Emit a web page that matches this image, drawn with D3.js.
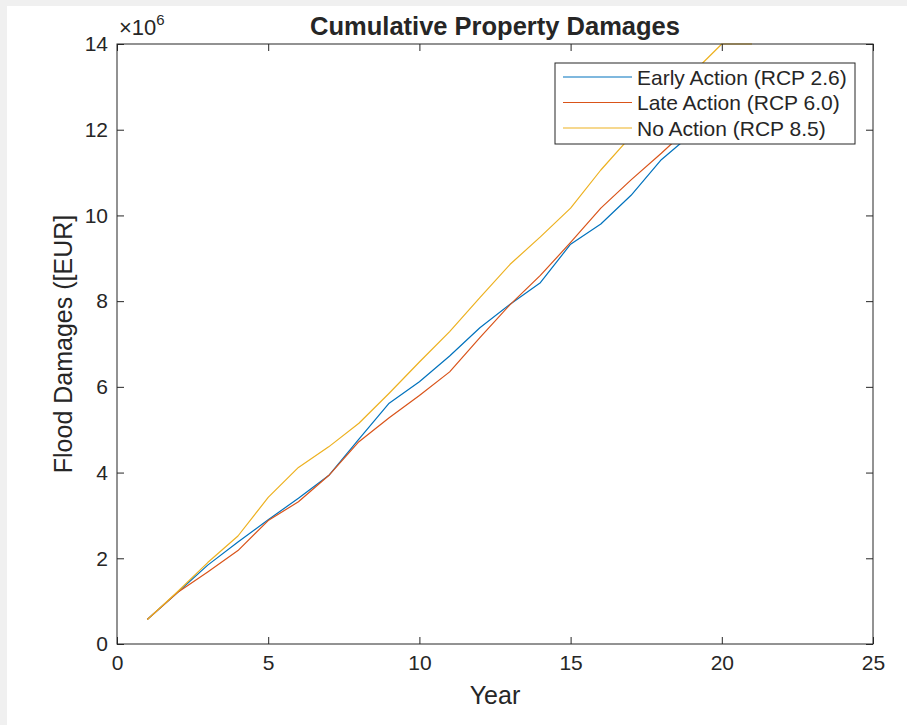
<!DOCTYPE html>
<html>
<head>
<meta charset="utf-8">
<script src="https://cdn.jsdelivr.net/npm/d3@7"></script>
<style>
  html, body { margin: 0; padding: 0; background: #f0f0f0; }
  svg { display: block; }
  text { font-family: "Liberation Sans", Arial, sans-serif; fill: #262626; }
</style>
</head>
<body>
<svg id="chart" width="907" height="725"></svg>
<script>
// Cumulative flood damages per scenario, in millions of EUR
const years = d3.range(1, 22);
const earlyAction = [0.57, 1.20, 1.84, 2.38, 2.90, 3.40, 3.93, 4.78, 5.62, 6.12, 6.72, 7.38, 7.93, 8.43, 9.33, 9.80, 10.47, 11.30, 11.90, 12.55, 13.20];
const lateAction  = [0.57, 1.20, 1.68, 2.18, 2.88, 3.32, 3.93, 4.72, 5.28, 5.80, 6.35, 7.15, 7.92, 8.60, 9.37, 10.17, 10.83, 11.45, 12.10, 12.80, 13.50];
const noAction    = [0.57, 1.22, 1.90, 2.52, 3.42, 4.12, 4.60, 5.15, 5.85, 6.58, 7.29, 8.08, 8.86, 9.50, 10.17, 11.06, 11.85, 12.60, 13.30, 14.00, 14.00];

const seriesNames = ["Early Action (RCP 2.6)", "Late Action (RCP 6.0)", "No Action (RCP 8.5)"];
const seriesColors = ["#0072BD", "#D95319", "#EDB120"];
const xTicks = [0, 5, 10, 15, 20, 25];
const yTicks = [0, 2, 4, 6, 8, 10, 12, 14];

const series = [earlyAction, lateAction, noAction].map((vals, i) => ({
  name: seriesNames[i], color: seriesColors[i],
  points: years.map((y, j) => ({ x: y, v: vals[j] }))
}));

const svg = d3.select("#chart");
// white figure area inside the light frame
svg.append("rect").attr("x", 7).attr("y", 6).attr("width", 900).attr("height", 719).attr("fill", "#ffffff");

const m = { left: 117, right: 873, top: 44, bottom: 644 };
const x = d3.scaleLinear().domain([0, 25]).range([m.left, m.right]);
const y = d3.scaleLinear().domain([0, 14]).range([m.bottom, m.top]);
const W = m.right - m.left, H = m.bottom - m.top;

svg.append("rect").attr("x", m.left).attr("y", m.top).attr("width", W).attr("height", H).attr("fill", "#ffffff");

svg.append("defs").append("clipPath").attr("id", "plotClip")
  .append("rect").attr("x", m.left - 1).attr("y", m.top - 1).attr("width", W + 2).attr("height", H + 2);

// data lines
const line = d3.line().x(d => x(d.x)).y(d => y(d.v));
const gLines = svg.append("g").attr("clip-path", "url(#plotClip)");
series.forEach(s => {
  gLines.append("path").datum(s.points)
    .attr("d", line).attr("fill", "none")
    .attr("stroke", s.color).attr("stroke-width", 1.2)
    .attr("stroke-linejoin", "round");
});

// axes with inward ticks on all four sides
const tickLen = 7;
const axisColor = "#262626";
function styleAxis(g) {
  g.select(".domain").remove();
  g.selectAll(".tick line").attr("stroke", axisColor).attr("stroke-width", 1);
  g.selectAll(".tick text").attr("font-size", 21).attr("fill", axisColor)
    .style("font-family", '"Liberation Sans", Arial, sans-serif');
}
svg.append("g").attr("transform", `translate(0,${m.bottom})`)
  .call(d3.axisBottom(x).tickValues(xTicks).tickSizeInner(-tickLen).tickSizeOuter(0).tickPadding(11).tickFormat(d3.format("d")))
  .call(styleAxis);
svg.append("g").attr("transform", `translate(0,${m.top})`)
  .call(d3.axisTop(x).tickValues(xTicks).tickSizeInner(-tickLen).tickSizeOuter(0).tickFormat(""))
  .call(styleAxis);
svg.append("g").attr("transform", `translate(${m.left},0)`)
  .call(d3.axisLeft(y).tickValues(yTicks).tickSizeInner(-tickLen).tickSizeOuter(0).tickPadding(9).tickFormat(d3.format("d")))
  .call(styleAxis);
svg.append("g").attr("transform", `translate(${m.right},0)`)
  .call(d3.axisRight(y).tickValues(yTicks).tickSizeInner(-tickLen).tickSizeOuter(0).tickFormat(""))
  .call(styleAxis);

// axes box
svg.append("rect").attr("x", m.left).attr("y", m.top).attr("width", W).attr("height", H)
  .attr("fill", "none").attr("stroke", axisColor).attr("stroke-width", 1);

// exponent label
const expo = svg.append("text").attr("x", m.left + 2).attr("y", 35).attr("font-size", 22);
expo.append("tspan").text("×10");
expo.append("tspan").attr("font-size", 15).attr("dy", -10).text("6");

// title and axis labels
svg.append("text").attr("x", 495).attr("y", 35)
  .attr("text-anchor", "middle").attr("font-size", 25.5).attr("font-weight", "bold")
  .attr("fill", "#000").text("Cumulative Property Damages");
svg.append("text").attr("x", (m.left + m.right) / 2).attr("y", 704)
  .attr("text-anchor", "middle").attr("font-size", 25).text("Year");
svg.append("text").attr("transform", `translate(72,${(m.top + m.bottom) / 2}) rotate(-90)`)
  .attr("text-anchor", "middle").attr("font-size", 25).text("Flood Damages ([EUR]");

// legend
const lg = svg.append("g").attr("transform", "translate(555,63)");
lg.append("rect").attr("width", 300).attr("height", 81).attr("fill", "#ffffff")
  .attr("stroke", axisColor).attr("stroke-width", 1);
series.forEach((s, i) => {
  const cy = 14 + i * 25.5;
  lg.append("line").attr("x1", 8).attr("x2", 77).attr("y1", cy).attr("y2", cy)
    .attr("stroke", s.color).attr("stroke-width", 1.2);
  lg.append("text").attr("x", 82).attr("y", cy + 7.5).attr("font-size", 21).text(s.name);
});
</script>
</body>
</html>
